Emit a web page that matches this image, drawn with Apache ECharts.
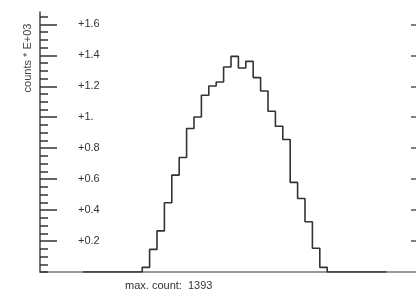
<!DOCTYPE html>
<html>
<head>
<meta charset="utf-8">
<script src="https://cdn.jsdelivr.net/npm/echarts@6/dist/echarts.min.js"></script>
<style>
    html, body { margin: 0; padding: 0; background: #fff; }
    #chart { width: 416px; height: 294px; }
</style>
</head>
<body>
<div id="chart"></div>
<script>
    // counts per bin (41 bins, bin index = x)
    let counts = [0, 0, 0, 0, 0, 0, 0, 0,
        30, 146, 266, 447, 626, 740, 927, 1002, 1142, 1202, 1228, 1325, 1393,
        1318, 1361, 1256, 1170, 1039, 942, 856, 579, 475, 325, 153, 30,
        0, 0, 0, 0, 0, 0, 0, 0];
    // tick values on the y axis (counts * E+03)
    let majorTicks = [0.2, 0.4, 0.6, 0.8, 1.0, 1.2, 1.4, 1.6];
    let majorLabels = ['+0.2', '+0.4', '+0.6', '+0.8', '+1.', '+1.2', '+1.4', '+1.6'];
    let minorTicks = [0, 0.05, 0.1, 0.15, 0.2, 0.25, 0.3, 0.35, 0.4, 0.45, 0.5, 0.55, 0.6, 0.65,
        0.7, 0.75, 0.8, 0.85, 0.9, 0.95, 1.0, 1.05, 1.1, 1.15, 1.2, 1.25, 1.3, 1.35, 1.4, 1.45,
        1.5, 1.55, 1.6, 1.65];
    let yName = 'counts * E+03';

    let font = 'Liberation Sans, Arial, sans-serif';
    let chart = echarts.init(document.getElementById('chart'), null, {renderer: 'canvas'});

    //阶梯线数据
    let pts = [];
    for (let i = 0; i < counts.length; i++) {
        pts.push([i, counts[i] / 1000]);
    }
    pts.push([counts.length, counts[counts.length - 1] / 1000]);

    let maxCount = Math.max.apply(null, counts);

    let option = {
        animation: false,
        grid: {left: 40, right: 0, top: 12, bottom: 22},
        xAxis: {
            type: 'value',
            min: -5.81,
            max: 45,
            axisLine: {show: true, onZero: false, lineStyle: {color: '#777', width: 1.5}},
            axisTick: {show: false},
            axisLabel: {show: false},
            splitLine: {show: false}
        },
        yAxis: [{
            type: 'value',
            position: 'left',
            min: 0,
            max: 1.68,
            axisLine: {show: true, onZero: false, lineStyle: {color: '#444', width: 1.5}},
            axisTick: {show: true, inside: true, length: 17, customValues: majorTicks,
                lineStyle: {color: '#333', width: 1.5}},
            axisLabel: {
                inside: true,
                margin: 38,
                customValues: majorTicks,
                color: '#333',
                fontFamily: font,
                fontSize: 11,
                formatter: function (v) {
                    let idx = majorTicks.findIndex(t => Math.abs(t - v) < 1e-6);
                    return idx >= 0 ? majorLabels[idx] : '';
                }
            },
            splitLine: {show: false}
        }, {
            type: 'value',
            position: 'left',
            offset: 0,
            min: 0,
            max: 1.68,
            axisLine: {show: false, onZero: false},
            axisTick: {show: true, inside: true, length: 8, customValues: minorTicks,
                lineStyle: {color: '#333', width: 1.5}},
            axisLabel: {show: false},
            splitLine: {show: false}
        }, {
            type: 'value',
            position: 'right',
            min: 0,
            max: 1.68,
            axisLine: {show: false, onZero: false},
            axisTick: {show: true, inside: true, length: 5, customValues: majorTicks,
                lineStyle: {color: '#555', width: 1.5}},
            axisLabel: {show: false},
            splitLine: {show: false}
        }],
        graphic: [{
            type: 'text',
            x: 28,
            y: 58,
            rotation: Math.PI / 2,
            style: {
                text: yName,
                fill: '#444',
                font: '11px ' + font,
                align: 'center',
                verticalAlign: 'middle'
            }
        }, {
            type: 'text',
            x: 125,
            y: 286,
            style: {
                text: 'max. count:  ' + maxCount,
                fill: '#333',
                font: '11px ' + font,
                align: 'left',
                verticalAlign: 'middle'
            }
        }],
        series: [{
            type: 'line',
            step: 'end',
            symbol: 'none',
            data: pts,
            lineStyle: {color: '#333', width: 1.6},
            z: 5
        }]
    };
    chart.setOption(option);
</script>
</body>
</html>
